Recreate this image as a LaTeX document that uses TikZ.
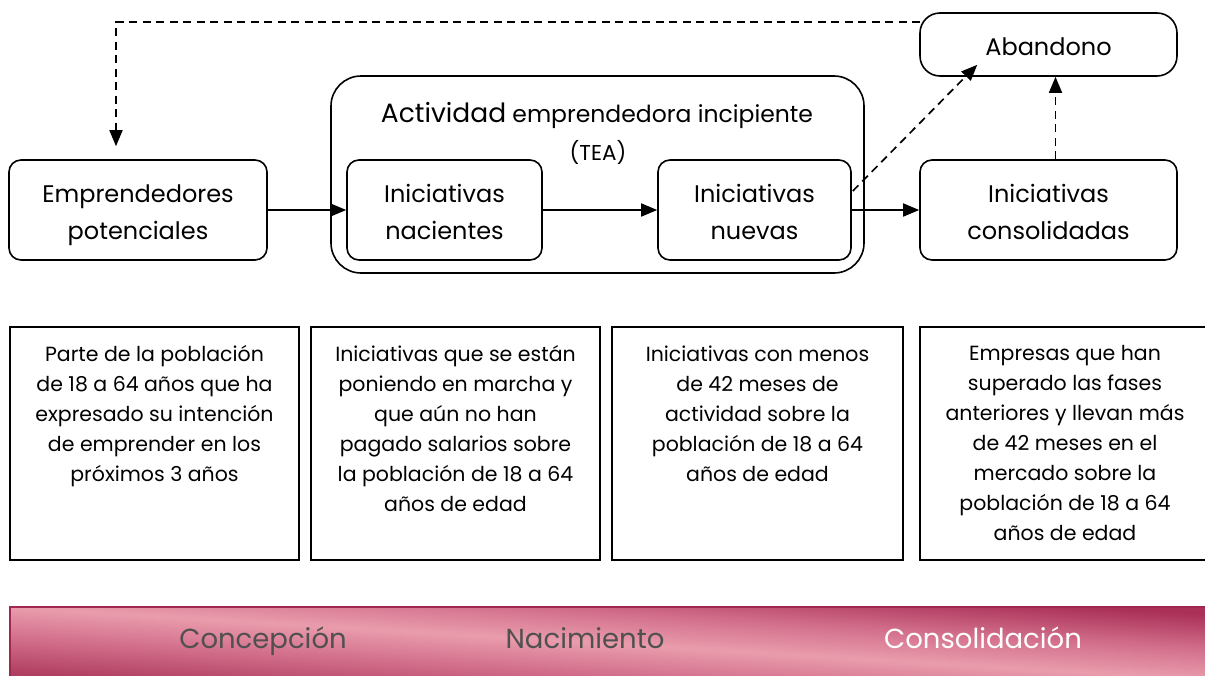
\documentclass[tikz,border=0pt]{standalone}
\usepackage{fontspec}
\setmainfont{Poppins}
\usetikzlibrary{arrows.meta,calc}
\definecolor{bdark}{RGB}{170,48,88}
\definecolor{bdarkb}{RGB}{176,62,96}
\definecolor{bmid}{RGB}{212,114,142}
\definecolor{blight}{RGB}{233,156,172}
\definecolor{bedge}{RGB}{160,40,80}
\definecolor{bartext}{RGB}{80,80,80}
\pgfdeclareverticalshading{barshade}{100bp}{color(0bp)=(bdarkb); color(18bp)=(bdarkb); color(36bp)=(bmid); color(50bp)=(blight); color(64bp)=(bmid); color(82bp)=(bdark); color(100bp)=(bdark)}
\newcommand\ptx[1]{\raisebox{-3.5pt}[\height][\depth]{\begin{tabular}{@{}c@{}}#1\end{tabular}}}
\tikzset{
  proc/.style={draw, line width=1.6pt, rounded corners=12pt, align=center, inner sep=0pt, font=\fontsize{24}{37}\selectfont},
  arr/.style={line width=1.7pt, -{Triangle[length=16pt,width=13pt]}},
  darr/.style={arr, dash pattern=on 8pt off 5.5pt},
  descbox/.style={draw, line width=1.6pt, minimum height=233pt, inner sep=0pt},
  desctext/.style={anchor=north, align=center, inner sep=0pt, font=\fontsize{20.5}{30}\selectfont},
  bartxt/.style={anchor=base, font=\fontsize{27.5}{30}\selectfont, inner sep=0pt},
}
\begin{document}
\begin{tikzpicture}[x=1pt,y=-1pt]
\useasboundingbox (0,0) rectangle (1205,675);
% top row
\node[proc, minimum width=533pt, minimum height=197pt, rounded corners=30pt] (tea) at (597.5,174.5) {};
\node[anchor=base, inner sep=0pt, font=\fontsize{23.5}{26}\selectfont] (teat) at (597,122) {{\fontsize{26.5}{26}\selectfont Actividad} emprendedora incipiente};
\node[anchor=base, inner sep=0pt, font=\fontsize{21.5}{26}\selectfont] (teab) at (598,160) {(TEA)};
\node[proc, minimum width=258pt, minimum height=100pt] (emp) at (138,210) {\ptx{Emprendedores\\potenciales}};
\node[proc, minimum width=195pt, minimum height=100pt] (nac) at (444.5,210) {\ptx{Iniciativas\\nacientes}};
\node[proc, minimum width=193pt, minimum height=100pt] (nue) at (754.5,210) {\ptx{Iniciativas\\nuevas}};
\node[proc, minimum width=257pt, minimum height=100pt] (con) at (1048.5,210) {\ptx{Iniciativas\\consolidadas}};
\node[proc, minimum width=257pt, minimum height=63pt, rounded corners=20pt] (ab) at (1048.5,44.5) {\ptx{Abandono}};
% connectors
\draw[arr] (emp.east) -- (nac.west);
\draw[arr] (nac.east) -- (nue.west);
\draw[arr] (nue.east) -- (con.west);
\draw[darr] ($(con.north)+(7,0)$) -- ($(ab.south)+(7,0)$);
\coordinate (dtip) at ($(ab.south west)+(58,-12)$);
\draw[darr] ($(nue.east)+(1,-19)$) -- (dtip);
\coordinate (fbs) at ($(ab.north west)+(1,10)$);
\coordinate (fbe) at ($(emp.north)+(-22,-13)$);
\draw[darr] (fbs) -| (fbe);
% description boxes
\node[descbox, minimum width=289pt] (d1) at (154.5,443.5) {};
\node[descbox, minimum width=289pt] (d2) at (455.5,443.5) {};
\node[descbox, minimum width=291pt] (d3) at (757.5,443.5) {};
\node[descbox, minimum width=290pt] (d4) at (1065,443.5) {};
\node[desctext] (t1) at ($(d1.north)+(0,19)$) {Parte de la población\\de 18 a 64 años que ha\\expresado su intención\\de emprender en los\\próximos 3 años};
\node[desctext] (t2) at ($(d2.north)+(0,19)$) {Iniciativas que se están\\poniendo en marcha y\\que aún no han\\pagado salarios sobre\\la población de 18 a 64\\años de edad};
\node[desctext] (t3) at ($(d3.north)+(0,19)$) {Iniciativas con menos\\de 42 meses de\\actividad sobre la\\población de 18 a 64\\años de edad};
\node[desctext] (t4) at ($(d4.north)+(0,19)$) {Empresas que han\\superado las fases\\anteriores y llevan más\\de 42 meses en el\\mercado sobre la\\población de 18 a 64\\años de edad};
% bottom bar
\begin{scope}[transform canvas={shift={(10,607)}, xscale=12, yscale=0.73}]
\shade[shading=barshade, shading angle=-45] (0,0) rectangle (100,100);
\end{scope}
\draw[bedge, line width=1.2pt] (10,680) -- (10,607) -- (1210,607);
\node[bartxt, text=bartext] (b1) at (263,648) {Concepción};
\node[bartxt, text=bartext] (b2) at (585,648) {Nacimiento};
\node[bartxt, text=white] (b3) at (983,648) {Consolidación};
\end{tikzpicture}
\end{document}
